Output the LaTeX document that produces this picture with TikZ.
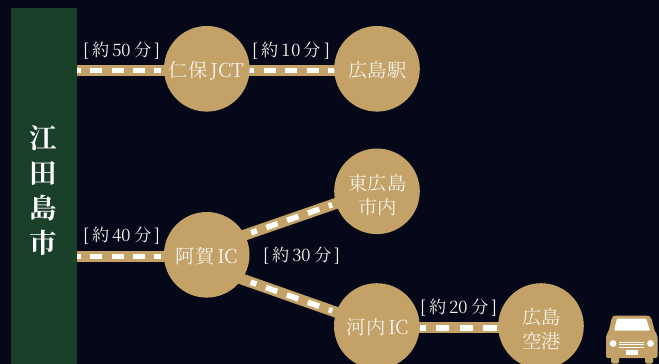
\documentclass[tikz,border=0pt]{standalone}
\usepackage{fontspec}
\setmainfont{Liberation Serif}
\newfontfamily\cjk{Noto Serif CJK JP}
\usetikzlibrary{backgrounds}
\definecolor{bgc}{HTML}{050818}
\definecolor{goldc}{HTML}{C4A267}
\definecolor{greenc}{HTML}{1A402A}
\definecolor{txtc}{HTML}{F4F1EA}
\tikzset{
 x=1pt,y=-1pt,
 stop/.style={circle,fill=goldc,minimum size=85.6pt,inner sep=0pt,outer sep=0pt},
 stoptext/.style={text=txtc,align=center,inner sep=0pt,font=\cjk\fontsize{19.3}{24}\selectfont},
 road/.style={draw=goldc,line width=11pt},
 roaddash/.style={draw=white,line width=5.6pt,yshift=-0.4pt},
 timelabel/.style={text=txtc,inner sep=0pt,font=\cjk\fontsize{17.3}{20}\selectfont},
 cityblock/.style={fill=greenc,inner sep=0pt,minimum width=66pt,minimum height=356pt,anchor=north west},
 cityname/.style={text=white,align=center,inner sep=0pt,font=\cjk\bfseries\fontsize{27.5}{35}\selectfont},
}
\begin{document}
\begin{tikzpicture}
\useasboundingbox (0,0) rectangle (659,364);
\node[cityblock] (city) at (11,8) {};
\node[cityname] (cityn) at (43.7,191) {江\\田\\島\\市};
\node[stop] (jct) at (206.8,68.8) {};
\node[stop] (hst) at (377,68.8) {};
\node[stop] (higashi) at (377,191.3) {};
\node[stop] (aga) at (206.7,254.8) {};
\node[stop] (kawa) at (376.8,326) {};
\node[stop] (air) at (541,326) {};
\node[stoptext] (jctt) at (206.5,70.5) {仁保\,JCT};
\node[stoptext] (hstt) at (377.5,70.5) {広島駅};
\node[stoptext] (higashit) at (377.5,195) {東広島\\市内};
\node[stoptext] (agat) at (207,256.5) {阿賀\,IC};
\node[stoptext] (kawat) at (378,327.5) {河内\,IC};
\node[stoptext] (airt) at (541.5,329) {広島\\空港};
\coordinate (c1) at (77,70.5);
\coordinate (c2) at (77,256.3);
\path (jct.center) ++(0,1.7) coordinate (jctR);
\path (hst.center) ++(0,1.7) coordinate (hstL);
\path (aga.center) ++(0,1.5) coordinate (agaL);
\path (aga.center) ++(0,-6.6) coordinate (agaU);
\path (higashi.center) ++(0,-2.1) coordinate (higU);
\path (aga.center) ++(0,11.9) coordinate (agaD);
\path (kawa.center) ++(0,0.5) coordinate (kawaU);
\path (kawa.center) ++(0,1.8) coordinate (kawaR);
\path (air.center) ++(0,1.8) coordinate (airL);
\begin{scope}[on background layer]
\fill[bgc] (0,0) rectangle (659,364);
\fill[greenc] (11,8) rectangle (77,364);
\draw[road] (c1) -- (jctR);
\draw[road] (jctR) -- (hstL);
\draw[road] (c2) -- (agaL);
\draw[road] (agaU) -- (higU);
\draw[road] (agaD) -- (kawaU);
\draw[road] (kawaR) -- (airL);
\draw[roaddash,dash pattern=on 12pt off 9.3pt,dash phase=8pt,shorten >=46.2pt] (c1) -- (jctR);
\draw[roaddash,dash pattern=on 12pt off 9.5pt,dash phase=6.7pt,shorten <=42.2pt,shorten >=42.3pt] (jctR) -- (hstL);
\draw[roaddash,dash pattern=on 12pt off 9.3pt,dash phase=8pt,shorten >=46.1pt] (c2) -- (agaL);
\draw[roaddash,yshift=0.4pt,dash pattern=on 12pt off 10pt,dash phase=6pt,shorten <=47.1pt,shorten >=47.5pt] (agaU) -- (higU);
\draw[roaddash,yshift=0.4pt,dash pattern=on 12pt off 10.2pt,dash phase=6pt,shorten <=46.6pt,shorten >=47.2pt] (agaD) -- (kawaU);
\draw[roaddash,dash pattern=on 13.3pt off 10.4pt,dash phase=7.7pt,shorten <=43.2pt,shorten >=44pt] (kawaR) -- (airL);
\end{scope}
\node[timelabel] (t1) at (122,50.5) {[\,約\,50\,分\,]};
\node[timelabel] (t2) at (291.5,50.5) {[\,約\,10\,分\,]};
\node[timelabel] (t3) at (122,235.5) {[\,約\,40\,分\,]};
\node[timelabel] (t4) at (302,255.5) {[\,約\,30\,分\,]};
\node[timelabel] (t5) at (459,307.5) {[\,約\,20\,分\,]};
% car
\fill[goldc,rounded corners=2pt] (612,317) -- (614,315.5) -- (648,315.5) -- (651,317) -- (655,332) -- (657.5,335) -- (657.5,358) -- (606,358) -- (606,335) -- (608.5,332) -- cycle;
\fill[goldc,rounded corners=1.5pt] (611,356) rectangle (619,363.5);
\fill[goldc,rounded corners=1.5pt] (645,356) rectangle (653,363.5);
\fill[white,rounded corners=1pt] (617,318.5) -- (646,318.5) -- (650,330.5) -- (614,330.5) -- cycle;
\fill[white] (613,343.5) circle (3.4);
\fill[white] (650.5,343.5) circle (3.4);
\fill[white] (619,341.5) rectangle (644,342.3);
\fill[white] (619,344) rectangle (644,344.8);
\fill[white] (619,346.5) rectangle (644,347.3);
\fill[white] (626,349.5) rectangle (637.5,355);
\end{tikzpicture}
\end{document}
